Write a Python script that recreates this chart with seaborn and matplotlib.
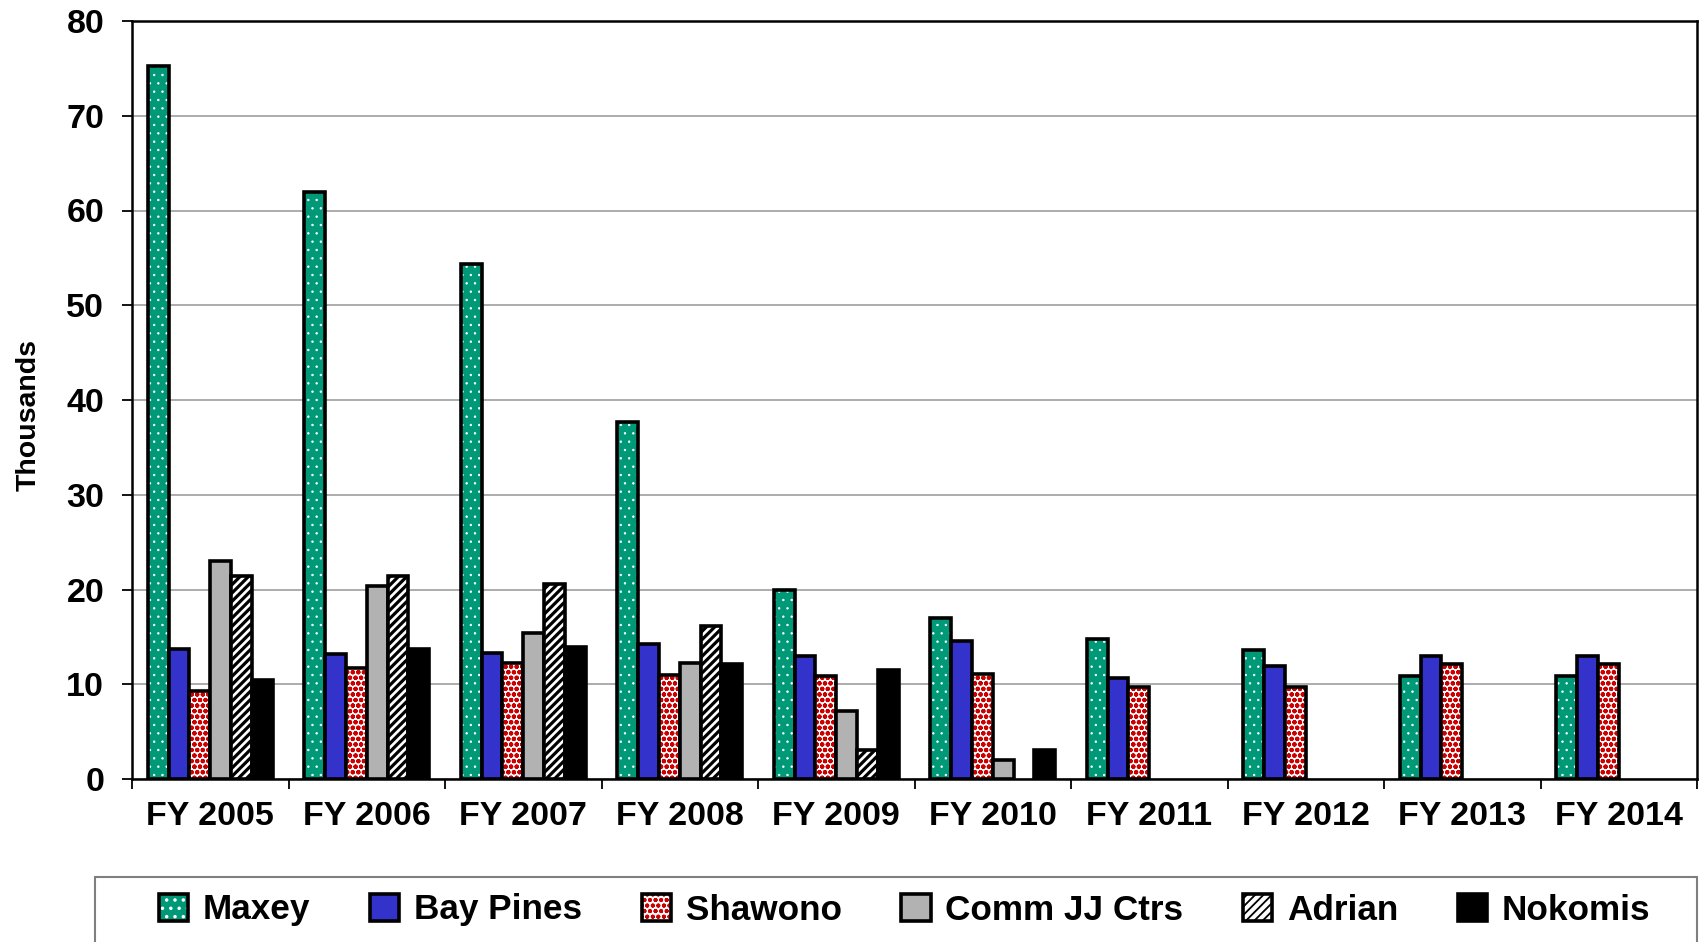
import numpy as np
import pandas as pd
import matplotlib
matplotlib.use("Agg")
import matplotlib.pyplot as plt
from matplotlib.colors import to_rgba
from matplotlib.patches import Patch, Rectangle
import seaborn as sns

nan = np.nan

years = ["FY 2005", "FY 2006", "FY 2007", "FY 2008", "FY 2009",
         "FY 2010", "FY 2011", "FY 2012", "FY 2013", "FY 2014"]
sites = ["Maxey", "Bay Pines", "Shawono", "Comm JJ Ctrs", "Adrian", "Nokomis"]

# thousands
maxey = [75.2, 62.0, 54.4, 37.7, 20.0, 17.0, 14.8, 13.6, 10.9, 10.9]
bay_pines = [13.7, 13.2, 13.3, 14.3, 13.0, 14.6, 10.7, 11.9, 13.0, 13.0]
shawono = [9.3, 11.7, 12.2, 11.0, 10.9, 11.1, 9.7, 9.7, 12.1, 12.1]
comm_jj = [23.0, 20.4, 15.4, 12.2, 7.2, 2.0, nan, nan, nan, nan]
adrian = [21.4, 21.4, 20.6, 16.2, 3.1, nan, nan, nan, nan, nan]
nokomis = [10.5, 13.7, 13.9, 12.1, 11.5, 3.1, nan, nan, nan, nan]

y_ticks = [0, 10, 20, 30, 40, 50, 60, 70, 80]

fills = ["#009977", "#3333CC", "white", "#B2B2B2", "white", "black"]
hatches = ["..", None, "ooo", None, "////", None]
hatch_cols = ["white", None, "#CC0000", None, "black", None]
hatch_lws = [0.5, None, 1.5, None, 2.3, None]

plt.rcParams["font.family"] = ["Liberation Sans", "DejaVu Sans"]
plt.rcParams["font.weight"] = "bold"
plt.rcParams["hatch.linewidth"] = 1.3

rows = []
for site, vals in zip(sites, [maxey, bay_pines, shawono, comm_jj, adrian, nokomis]):
    for yr, v in zip(years, vals):
        if not np.isnan(v):
            rows.append((yr, site, v))
df = pd.DataFrame(rows, columns=["year", "site", "thousands"])


def style_hatch(p, hatch, col, lw):
    if not hatch:
        return
    p.set_hatch(hatch)
    if hasattr(p, "set_hatchcolor"):
        p.set_hatchcolor(col)
    else:
        p._hatch_color = to_rgba(col)
    if hasattr(p, "set_hatch_linewidth"):
        p.set_hatch_linewidth(lw)
    elif hasattr(p, "_hatch_linewidth"):
        p._hatch_linewidth = lw


W, H = 1704, 942
fig = plt.figure(figsize=(W / 100, H / 100), dpi=100)
ax = fig.add_axes([132 / W, 1 - 779 / H, (1697 - 132) / W, (779 - 21) / H])

sns.barplot(data=df, x="year", y="thousands", hue="site",
            order=years, hue_order=sites,
            palette=dict(zip(sites, fills)), saturation=1, width=0.8,
            edgecolor="black", linewidth=2.6, errorbar=None,
            legend=False, ax=ax)

for cont, h, hc, hl in zip(ax.containers, hatches, hatch_cols, hatch_lws):
    for bar in cont:
        style_hatch(bar, h, hc, hl)

ax.set_xlim(-0.5, len(years) - 0.5)
ax.set_ylim(0, 80)
ax.set_yticks(y_ticks)
ax.set_xticks(np.arange(-0.5, len(years), 1), minor=True)
ax.yaxis.grid(True, color="#A6A6A6", linewidth=1.3)
ax.set_axisbelow(True)
for sp in ax.spines.values():
    sp.set_color("black")
    sp.set_linewidth(1.8)

ax.tick_params(axis="y", length=7.5, width=1.3, pad=12.5, labelsize=24.5)
ax.tick_params(axis="x", which="major", length=0, pad=16, labelsize=24.5)
ax.tick_params(axis="x", which="minor", length=7.5, width=1.3)

ax.set_xlabel("")
ax.set_ylabel("Thousands", fontsize=20.5, fontweight="bold")
ax.yaxis.set_label_coords(-0.058, 0.48)

handles = []
for s, f, h, hc, hl in zip(sites, fills, hatches, hatch_cols, hatch_lws):
    p = Patch(facecolor=f, edgecolor="black", linewidth=2.6, label=s)
    style_hatch(p, h, hc, hl)
    handles.append(p)

fig.legend(handles=handles, loc="center left",
           bbox_to_anchor=(159 / W, 1 - 910 / H), ncol=6, frameon=False,
           prop={"size": 25.3, "weight": "bold"},
           handlelength=0.83, handleheight=0.83, handletextpad=0.42,
           columnspacing=1.7, borderpad=0, borderaxespad=0)

# legend box, runs off the bottom edge like the original
fig.add_artist(Rectangle((95 / W, -0.1), (1697 - 95) / W, 0.1 + (H - 877) / H,
                         transform=fig.transFigure, fill=False,
                         edgecolor="#7F7F7F", linewidth=1.5))

fig.savefig("out.png", dpi=100)
